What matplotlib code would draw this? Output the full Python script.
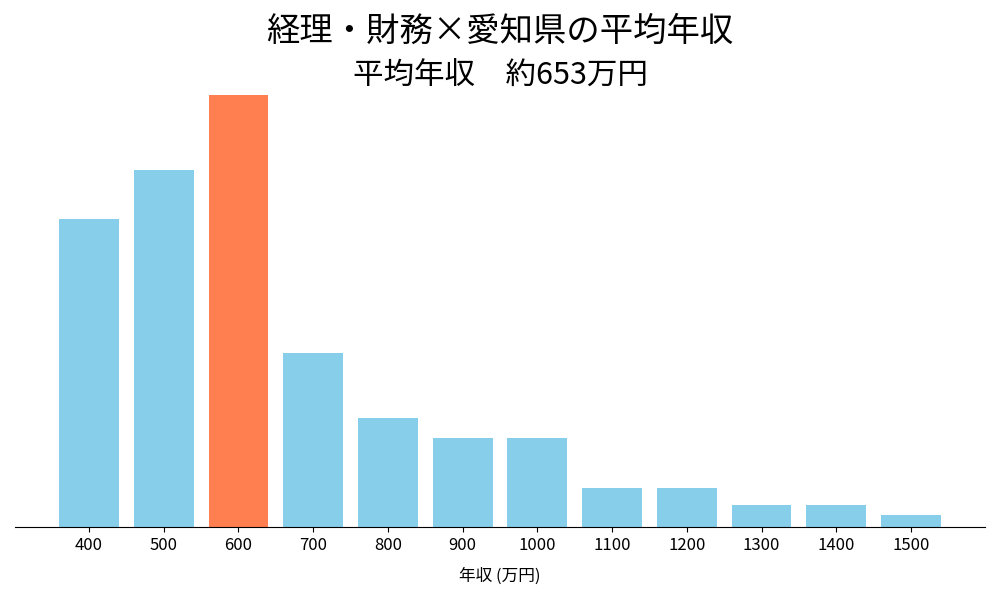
import matplotlib
matplotlib.use("Agg")
import matplotlib.pyplot as plt

plt.rcParams['font.family'] = ['Noto Sans CJK JP', 'DejaVu Sans']

categories = [400, 500, 600, 700, 800, 900, 1000, 1100, 1200, 1300, 1400, 1500]
values = [308, 357, 432, 174, 109, 89, 89, 39, 39, 22, 22, 12]
highlight = 600
title1 = "経理・財務×愛知県の平均年収"
title2 = "平均年収　約653万円"
xlabel = "年収 (万円)"

colors = ['#FF7F50' if c == highlight else '#87CEEB' for c in categories]

fig = plt.figure(figsize=(10, 6), dpi=100)
ax = fig.add_axes([0.015, 0.122, 0.97, 0.756])
ax.bar(categories, values, width=80, color=colors)
ax.set_xticks(categories)
ax.set_xticklabels([str(c) for c in categories], fontsize=12)
ax.set_yticks([])
for s in ['top', 'right', 'left']:
    ax.spines[s].set_visible(False)
ax.set_xlabel(xlabel, fontsize=12, labelpad=10)
fig.text(0.5, 0.948, title1, ha='center', va='center', fontsize=24)
fig.text(0.5, 0.873, title2, ha='center', va='center', fontsize=22)
fig.savefig('out.png')
